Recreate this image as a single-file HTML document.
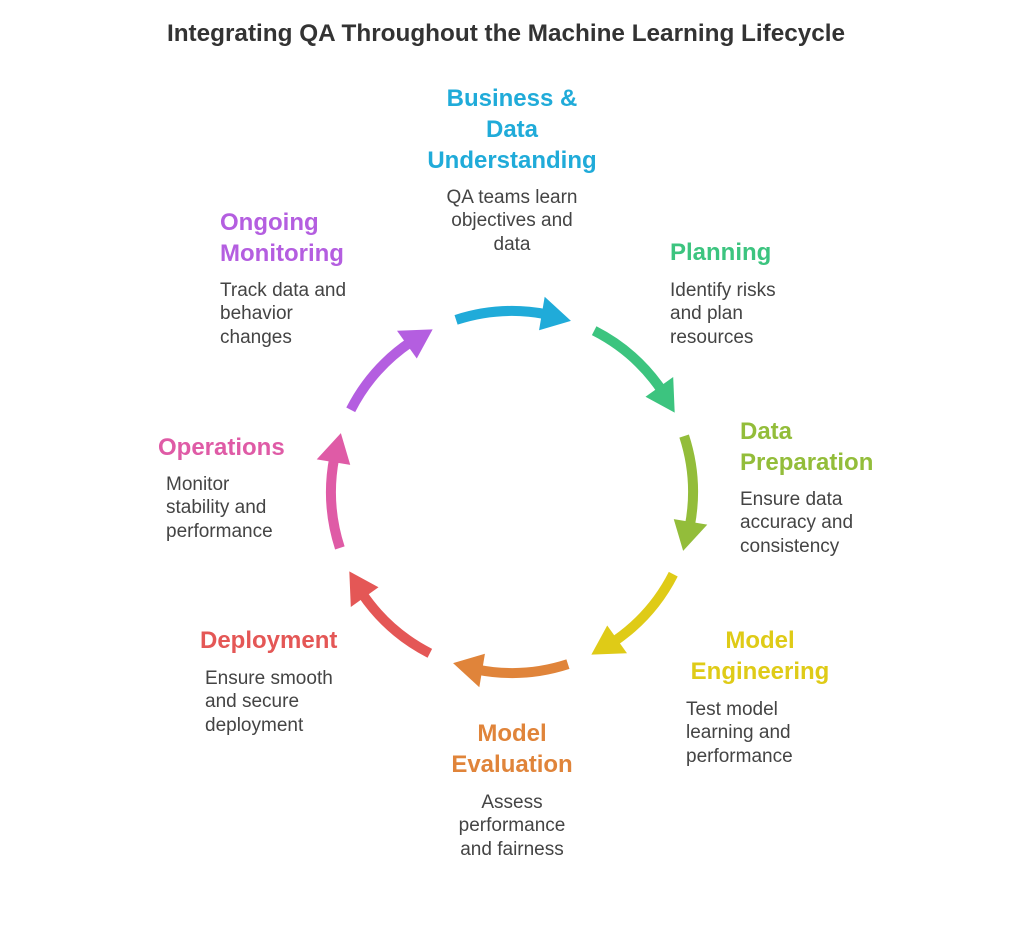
<!DOCTYPE html>
<html><head><meta charset="utf-8"><style>
body{margin:0;background:#fff;width:1024px;height:929px;position:relative;overflow:hidden;font-family:"Liberation Sans",sans-serif}
.t{position:absolute;font-weight:bold;font-size:24px;line-height:31px;white-space:nowrap}
.b{position:absolute;font-size:19px;line-height:23.3px;color:#444;white-space:nowrap}
.c{text-align:center;transform:translateX(-50%)}
svg{position:absolute;left:0;top:0}
</style></head><body>
<div style="position:absolute;left:-6px;width:1024px;top:20px;text-align:center;font-weight:bold;font-size:24.3px;color:#333">Integrating QA Throughout the Machine Learning Lifecycle</div>
<svg id="s" width="1024" height="929"></svg>

<div class="t c" style="left:512px;top:83px;color:#20abd9">Business &amp;<br>Data<br>Understanding</div>
<div class="b c" style="left:512px;top:186px">QA teams learn<br>objectives and<br>data</div>

<div class="t" style="left:670px;top:237px;color:#3cc47f">Planning</div>
<div class="b" style="left:670px;top:279px">Identify risks<br>and plan<br>resources</div>

<div class="t" style="left:220px;top:207px;color:#b45ee0">Ongoing<br>Monitoring</div>
<div class="b" style="left:220px;top:279px">Track data and<br>behavior<br>changes</div>

<div class="t" style="left:740px;top:416px;color:#93bd3a">Data<br>Preparation</div>
<div class="b" style="left:740px;top:488px">Ensure data<br>accuracy and<br>consistency</div>

<div class="t" style="left:158px;top:432px;color:#df5ba6">Operations</div>
<div class="b" style="left:166px;top:473px">Monitor<br>stability and<br>performance</div>

<div class="t c" style="left:760px;top:625px;color:#dfcb17">Model<br>Engineering</div>
<div class="b" style="left:686px;top:698px">Test model<br>learning and<br>performance</div>

<div class="t" style="left:200px;top:625px;color:#e45756">Deployment</div>
<div class="b" style="left:205px;top:667px">Ensure smooth<br>and secure<br>deployment</div>

<div class="t c" style="left:512px;top:718px;color:#e0843a">Model<br>Evaluation</div>
<div class="b c" style="left:512px;top:791px">Assess<br>performance<br>and fairness</div>

<script>
var cx=512,cy=492,r=181,cols=["#20abd9","#3cc47f","#93bd3a","#dfcb17","#e0843a","#e45756","#df5ba6","#b45ee0"];
function P(a,rr){var t=a*Math.PI/180;return [cx+rr*Math.sin(t),cy-rr*Math.cos(t)];}
var h="";
for(var i=0;i<8;i++){var c=i*45,a0=c-18,ae=c+19,ab=c+9.5,am=c+11;
var p0=P(a0,r),p1=P(am,r);
h+='<path d="M'+p0[0]+' '+p0[1]+' A'+r+' '+r+' 0 0 1 '+p1[0]+' '+p1[1]+'" fill="none" stroke="'+cols[i]+'" stroke-width="10"/>';
var t=P(ae,r),b1=P(ab,r+17),b2=P(ab,r-17);
h+='<polygon points="'+t.join(",")+' '+b1.join(",")+' '+b2.join(",")+'" fill="'+cols[i]+'"/>';}
document.getElementById("s").innerHTML=h;
</script>
</body></html>
